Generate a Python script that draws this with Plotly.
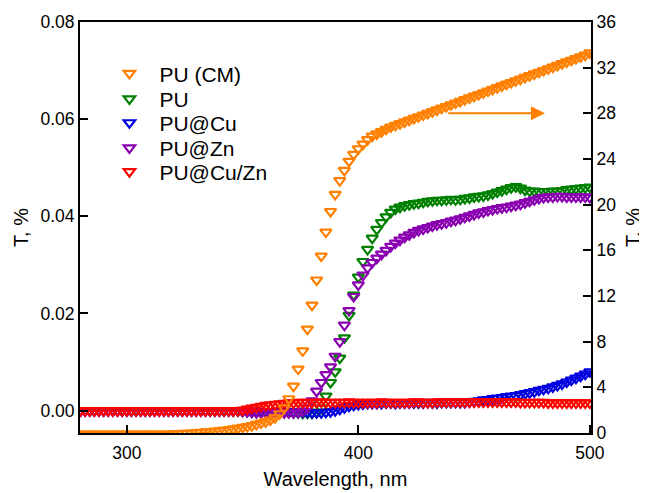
import plotly.graph_objects as go

# Wavelength grid (nm)
wavelength = list(range(280, 501, 2))

# PU (CM) - right axis, T %
pu_cm = [
    -0.10, -0.10, -0.10, -0.10, -0.10, -0.10, -0.10, -0.10, -0.10, -0.10,
    -0.10, -0.10, -0.10, -0.10, -0.10, -0.10, -0.10, -0.10, -0.10, -0.10,
    -0.08, -0.06, -0.04, -0.02, 0.0, 0.03, 0.06, 0.09, 0.12, 0.16,
    0.20, 0.25, 0.30, 0.36, 0.43, 0.50, 0.57, 0.65, 0.75, 0.87,
    0.99, 1.14, 1.35, 1.68, 2.2, 3.0, 4.1, 5.6, 7.2, 9.1,
    11.2, 13.4, 15.5, 17.6, 19.4, 20.9, 22.1, 23.0, 23.8, 24.4,
    24.9, 25.3, 25.7, 26.0, 26.2, 26.4, 26.6, 26.8, 26.95, 27.1,
    27.25, 27.4, 27.55, 27.7, 27.85, 28.0, 28.15, 28.3, 28.45, 28.6,
    28.75, 28.9, 29.05, 29.2, 29.35, 29.5, 29.65, 29.8, 29.95, 30.1,
    30.25, 30.4, 30.55, 30.7, 30.85, 31.0, 31.15, 31.3, 31.45, 31.6,
    31.75, 31.9, 32.05, 32.2, 32.35, 32.5, 32.65, 32.8, 32.95, 33.1,
    33.3,
]

# PU - left axis
pu = [
    0.0, 0.0, 0.0, 0.0, 0.0, 0.0, 0.0, 0.0, 0.0, 0.0,
    0.0, 0.0, 0.0, 0.0, 0.0, 0.0, 0.0, 0.0, 0.0, 0.0,
    0.0, 0.0, 0.0, 0.0, 0.0, 0.0, 0.0, 0.0, 0.0, 0.0,
    0.0, 0.0, 0.0, 0.0, 0.0, -0.0001, -0.0001, -0.0002, -0.0002, -0.0002,
    -0.0002, -0.0002, -0.0003, -0.0003, -0.0003, -0.0003, -0.0004, -0.0004, -0.0005, -0.0005,
    -0.0005, -0.0003, 0.0005, 0.0030, 0.0058, 0.0080, 0.0108, 0.0150, 0.0196, 0.0238,
    0.0275, 0.0307, 0.0332, 0.0355, 0.0373, 0.0387, 0.0399, 0.0408, 0.0415, 0.0419,
    0.0422, 0.0424, 0.0426, 0.0427, 0.0429, 0.0431, 0.0432, 0.0433, 0.0433, 0.0434,
    0.0435, 0.0434, 0.0435, 0.0437, 0.0438, 0.0440, 0.0441, 0.0442, 0.0444, 0.0447,
    0.0450, 0.0453, 0.0456, 0.0459, 0.0461, 0.0458, 0.0454, 0.0452, 0.0452, 0.0451,
    0.0451, 0.0451, 0.0452, 0.0452, 0.0453, 0.0455, 0.0456, 0.0457, 0.0458, 0.0459,
    0.0460,
]

# PU@Cu - left axis
pu_cu = [
    0.0, 0.0, 0.0, 0.0, 0.0, 0.0, 0.0, 0.0, 0.0, 0.0,
    0.0, 0.0, 0.0, 0.0, 0.0, 0.0, 0.0, 0.0, 0.0, 0.0,
    0.0, 0.0, 0.0, 0.0, 0.0, 0.0, 0.0, 0.0, 0.0, 0.0,
    0.0, 0.0, 0.0, 0.0, 0.0, 0.0, -0.0001, -0.0001, -0.0002, -0.0002,
    -0.0002, -0.0002, -0.0002, -0.0002, -0.0002, -0.0002, -0.0002, -0.0003, -0.0003, -0.0003,
    -0.0004, -0.0004, -0.0004, -0.0003, -0.0002, 0.0000, 0.0003, 0.0006, 0.0009, 0.0011,
    0.0013, 0.0014, 0.0015, 0.0015, 0.0015, 0.0015, 0.0016, 0.0016, 0.0015, 0.0016,
    0.0016, 0.0016, 0.0016, 0.0016, 0.0016, 0.0017, 0.0016, 0.0016, 0.0017, 0.0017,
    0.0017, 0.0017, 0.0017, 0.0017, 0.0018, 0.0019, 0.0020, 0.0022, 0.0023, 0.0025,
    0.0026, 0.0027, 0.0029, 0.0030, 0.0031, 0.0033, 0.0035, 0.0037, 0.0039, 0.0042,
    0.0044, 0.0046, 0.0049, 0.0052, 0.0055, 0.0059, 0.0063, 0.0067, 0.0071, 0.0075,
    0.0080,
]

# PU@Zn - left axis
pu_zn = [
    0.0, 0.0, 0.0, 0.0, 0.0, 0.0, 0.0, 0.0, 0.0, 0.0,
    0.0, 0.0, 0.0, 0.0, 0.0, 0.0, 0.0, 0.0, 0.0, 0.0,
    0.0, 0.0, 0.0, 0.0, 0.0, 0.0, 0.0, 0.0, 0.0, 0.0,
    0.0, 0.0, 0.0, 0.0, 0.0, -0.0001, -0.0002, -0.0003, -0.0004, -0.0004,
    -0.0004, -0.0004, -0.0004, -0.0004, -0.0004, -0.0004, -0.0004, -0.0003, -0.0001, 0.0006,
    0.0020, 0.0040, 0.0058, 0.0074, 0.0090, 0.0112, 0.0142, 0.0176, 0.0206, 0.0235,
    0.0259, 0.0279, 0.0294, 0.0305, 0.0314, 0.0322, 0.0330, 0.0338, 0.0345, 0.0351,
    0.0357, 0.0362, 0.0367, 0.0371, 0.0374, 0.0377, 0.0380, 0.0383, 0.0385, 0.0387,
    0.0390, 0.0392, 0.0395, 0.0398, 0.0401, 0.0404, 0.0407, 0.0409, 0.0412, 0.0414,
    0.0416, 0.0418, 0.0419, 0.0421, 0.0423, 0.0425, 0.0428, 0.0431, 0.0434, 0.0437,
    0.0439, 0.0440, 0.0440, 0.0441, 0.0441, 0.0440, 0.0440, 0.0440, 0.0440, 0.0440,
    0.0439,
]

# PU@Cu/Zn - left axis
pu_cuzn = [
    0.0, 0.0, 0.0, 0.0, 0.0, 0.0, 0.0, 0.0, 0.0, 0.0,
    0.0, 0.0, 0.0, 0.0, 0.0, 0.0, 0.0, 0.0, 0.0, 0.0,
    0.0, 0.0, 0.0, 0.0, 0.0, 0.0, 0.0, 0.0, 0.0, 0.0,
    0.0, 0.0, 0.0, 0.0, 0.0, 0.0001, 0.0003, 0.0005, 0.0007, 0.0009,
    0.0011, 0.0012, 0.0013, 0.0014, 0.0015, 0.0016, 0.0016, 0.0017, 0.0017, 0.0017,
    0.0017, 0.0017, 0.0018, 0.0017, 0.0017, 0.0017, 0.0017, 0.0017, 0.0018, 0.0017,
    0.0017, 0.0017, 0.0017, 0.0017, 0.0017, 0.0018, 0.0017, 0.0017, 0.0017, 0.0017,
    0.0017, 0.0017, 0.0018, 0.0018, 0.0017, 0.0017, 0.0017, 0.0018, 0.0018, 0.0018,
    0.0018, 0.0018, 0.0018, 0.0018, 0.0018, 0.0018, 0.0018, 0.0018, 0.0018, 0.0018,
    0.0018, 0.0018, 0.0018, 0.0018, 0.0018, 0.0017, 0.0017, 0.0017, 0.0017, 0.0017,
    0.0017, 0.0016, 0.0016, 0.0016, 0.0016, 0.0016, 0.0016, 0.0016, 0.0016, 0.0016,
    0.0016,
]

names = ["PU (CM)", "PU", "PU@Cu", "PU@Zn", "PU@Cu/Zn"]
colors = ["#FF8000", "#008000", "#0000E0", "#8A00B0", "#FF0000"]
series = [pu_cm, pu, pu_cu, pu_zn, pu_cuzn]
axes = ["y2", "y", "y", "y", "y"]
legend_ids = ["legend", "legend2", "legend3", "legend4", "legend5"]
legend_rows = [0.874, 0.812, 0.754, 0.693, 0.635]

FONT = "Liberation Sans, Arial, sans-serif"

fig = go.Figure()
for name, col, vals, ax, lg in zip(names, colors, series, axes, legend_ids):
    fig.add_trace(go.Scatter(
        x=wavelength, y=vals, name=name, mode="markers", yaxis=ax, legend=lg,
        marker=dict(symbol="triangle-down-open", size=10, color=col,
                    line=dict(width=2.2, color=col)),
    ))

axis_common = dict(showline=True, linecolor="black", linewidth=2,
                   ticks="inside", ticklen=8, tickwidth=1.5, tickcolor="black",
                   showgrid=False, zeroline=False, automargin=False,
                   tickfont=dict(family=FONT, size=17.5, color="black"))

legend_style = dict(x=0.038, xanchor="left", yanchor="middle",
                    bgcolor="rgba(0,0,0,0)", font=dict(family=FONT, size=21, color="black"),
                    itemwidth=50)

layout_legends = {}
for lg, yy in zip(legend_ids, legend_rows):
    layout_legends[lg] = dict(y=yy, **legend_style)

# The page body adds an 8 px offset, so the figure is sized to fill the window exactly.
fig.update_layout(
    width=639, height=485,
    margin=dict(l=72, r=56, t=14, b=60),
    paper_bgcolor="white", plot_bgcolor="white",
    font=dict(family=FONT, color="black"),
    xaxis=dict(range=[279.8, 500.5], tickvals=[300, 400, 500], mirror=True,
               ticklabelstandoff=3,
               title=dict(text="Wavelength, nm", font=dict(size=20), standoff=10),
               **axis_common),
    yaxis=dict(range=[-0.0046, 0.08], tickvals=[0, 0.02, 0.04, 0.06, 0.08],
               tickformat=".2f",
               title=dict(text="T, %", font=dict(size=20), standoff=6),
               **axis_common),
    yaxis2=dict(range=[0, 36], tickvals=list(range(0, 37, 4)), overlaying="y",
                side="right",
                title=dict(text="T, %", font=dict(size=20), standoff=11),
                **axis_common),
    showlegend=True,
    annotations=[dict(x=480.6, y=28, xref="x", yref="y2",
                      ax=438.2, ay=28, axref="x", ayref="y2",
                      showarrow=True, arrowhead=2, arrowsize=1.4,
                      arrowwidth=2, arrowcolor="#FF8000", text="")],
    **layout_legends,
)

fig.write_html("out.html")
